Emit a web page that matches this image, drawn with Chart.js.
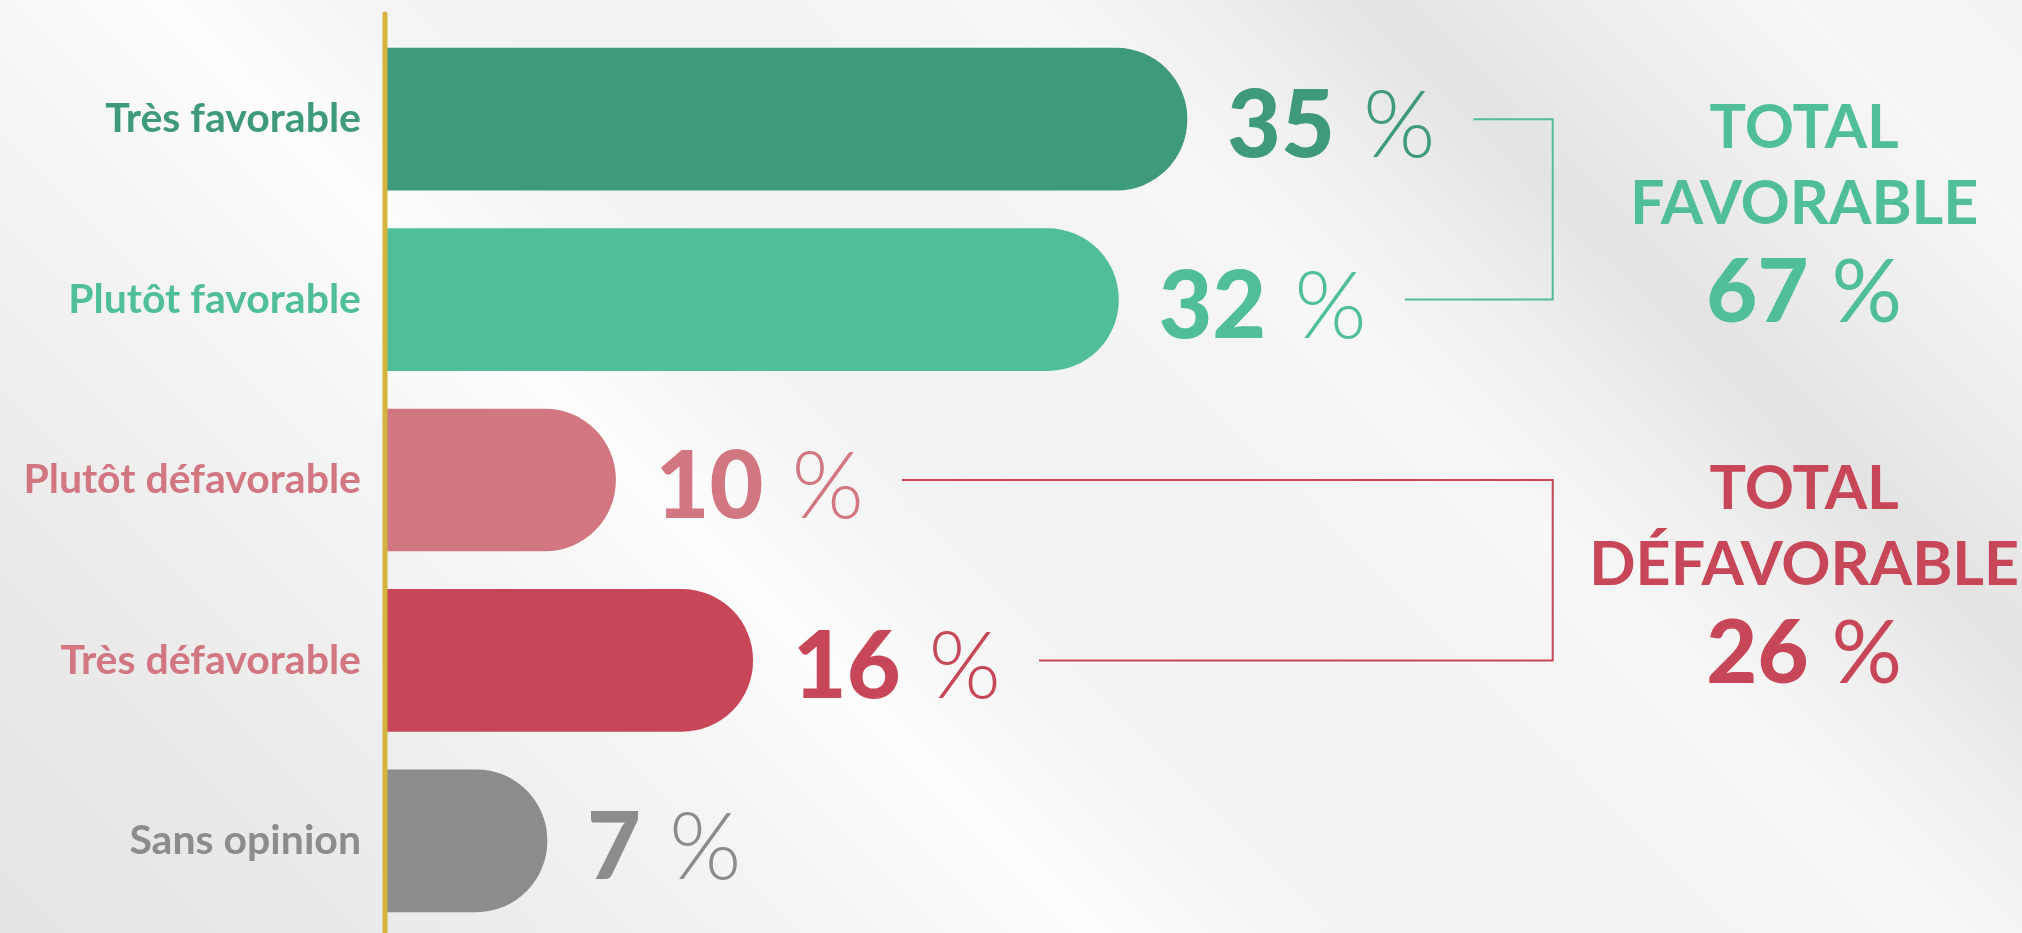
<!DOCTYPE html>
<html lang="fr">
<head>
<meta charset="utf-8">
<title>Favorable / défavorable</title>
<script src="https://cdn.jsdelivr.net/npm/chart.js@4.4.1/dist/chart.umd.min.js"></script>
<style>
    html, body { margin: 0; padding: 0; }
    body {
        width: 2022px;
        height: 933px;
        overflow: hidden;
        background: linear-gradient(45deg, #e4e4e4 0%, #e9e9e9 12%, #f0f0f0 22%, #f6f6f6 30%, #fdfdfd 37%,
            #f4f4f4 44%, #f2f2f2 55%, #f7f7f7 66%, #efefef 72%, #e3e3e3 78%, #ececec 84%, #f6f6f6 92%, #f3f3f3 100%);
    }
    #wrap { position: relative; width: 2022px; height: 933px; }
</style>
</head>
<body>
<div id="wrap"><canvas id="opinion-chart"></canvas></div>
<script>
const categories = ["Très favorable", "Plutôt favorable", "Plutôt défavorable", "Très défavorable", "Sans opinion"];
const values = [35, 32, 10, 16, 7];
const barColors = ["#3f997d", "#50bf99", "#d27782", "#c74657", "#8c8c8c"];
const labelColors = ["#3f997d", "#50bf99", "#d27782", "#d27782", "#8c8c8c"];

const totalTitles = [["TOTAL", "FAVORABLE"], ["TOTAL", "DÉFAVORABLE"]];
const totalValues = [67, 26];
const totalRanges = [[0, 1], [2, 3]];
const totalColors = ["#50bf99", "#c74657"];

const axisColor = "#d4b43c";
const FONT = "Lato, 'Open Sans', sans-serif";

// value labels, brackets and totals drawn on top of the bars
const annotations = {
    id: "annotations",
    afterDatasetsDraw(chart) {
        const ctx = chart.ctx;
        const meta = chart.getDatasetMeta(0);
        const xScale = chart.scales.x;
        const area = chart.chartArea;
        ctx.save();

        // gold axis line
        ctx.strokeStyle = axisColor;
        ctx.lineWidth = 5;
        ctx.lineCap = "round";
        ctx.beginPath();
        ctx.moveTo(area.left - 2, 14);
        ctx.lineTo(area.left - 2, chart.height + 5);
        ctx.stroke();

        // "35 %" style labels
        const labelEnds = [];
        ctx.textAlign = "left";
        ctx.textBaseline = "alphabetic";
        meta.data.forEach((bar, i) => {
            const x0 = bar.x + 40;
            const base = bar.y + 38;
            const num = String(values[i]);
            ctx.fillStyle = barColors[i];
            ctx.font = `900 93px ${FONT}`;
            ctx.fillText(num, x0, base);
            const pctX = x0 + ctx.measureText(num).width + 28;
            ctx.font = `300 93px ${FONT}`;
            ctx.fillText("%", pctX, base);
            labelEnds.push(pctX + ctx.measureText("%").width);
        });

        const bracketX = xScale.getPixelForValue(51);
        const centerX = xScale.getPixelForValue(62);

        totalRanges.forEach((range, k) => {
            const [a, b] = range;
            const yA = meta.data[a].y;
            const yB = meta.data[b].y;

            ctx.strokeStyle = totalColors[k];
            ctx.lineWidth = 2;
            ctx.lineCap = "butt";
            ctx.beginPath();
            ctx.moveTo(labelEnds[a] + 38, yA);
            ctx.lineTo(bracketX, yA);
            ctx.lineTo(bracketX, yB);
            ctx.lineTo(labelEnds[b] + 38, yB);
            ctx.stroke();

            const mid = (yA + yB) / 2 + 3;
            ctx.fillStyle = totalColors[k];
            ctx.textAlign = "center";
            ctx.font = `bold 61px ${FONT}`;
            ctx.fillText(totalTitles[k][0], centerX, mid - 64);
            ctx.fillText(totalTitles[k][1], centerX, mid + 12);

            // total value, heavy number + lighter percent sign
            const num = String(totalValues[k]);
            ctx.font = `900 88px ${FONT}`;
            const wNum = ctx.measureText(num).width;
            ctx.font = `normal 88px ${FONT}`;
            const wPct = ctx.measureText("%").width;
            const gap = 23;
            const start = centerX - (wNum + gap + wPct) / 2;
            ctx.textAlign = "left";
            ctx.font = `900 88px ${FONT}`;
            ctx.fillText(num, start, mid + 110);
            ctx.font = `normal 88px ${FONT}`;
            ctx.fillText("%", start + wNum + gap, mid + 110);
        });

        ctx.restore();
    }
};

new Chart(document.getElementById("opinion-chart"), {
    type: "bar",
    data: {
        labels: categories,
        datasets: [{
            data: values,
            backgroundColor: barColors,
            borderWidth: 0,
            borderRadius: 71,
            barThickness: 142
        }]
    },
    options: {
        indexAxis: "y",
        responsive: true,
        maintainAspectRatio: false,
        animation: false,
        layout: { padding: { left: 0, right: 35, top: 29, bottom: 2 } },
        plugins: {
            legend: { display: false },
            tooltip: { enabled: false }
        },
        scales: {
            x: { min: 0, max: 70, display: false },
            y: {
                afterFit: scale => {
                    scale.width = 387;
                    scale.paddingTop = 0;
                    scale.paddingBottom = 0;
                },
                grid: { display: false, drawTicks: false },
                border: { display: false },
                ticks: {
                    color: ctx => labelColors[ctx.index],
                    font: { family: FONT, weight: "bold", size: 41 },
                    padding: 26
                }
            }
        }
    },
    plugins: [annotations]
});
</script>
</body>
</html>
